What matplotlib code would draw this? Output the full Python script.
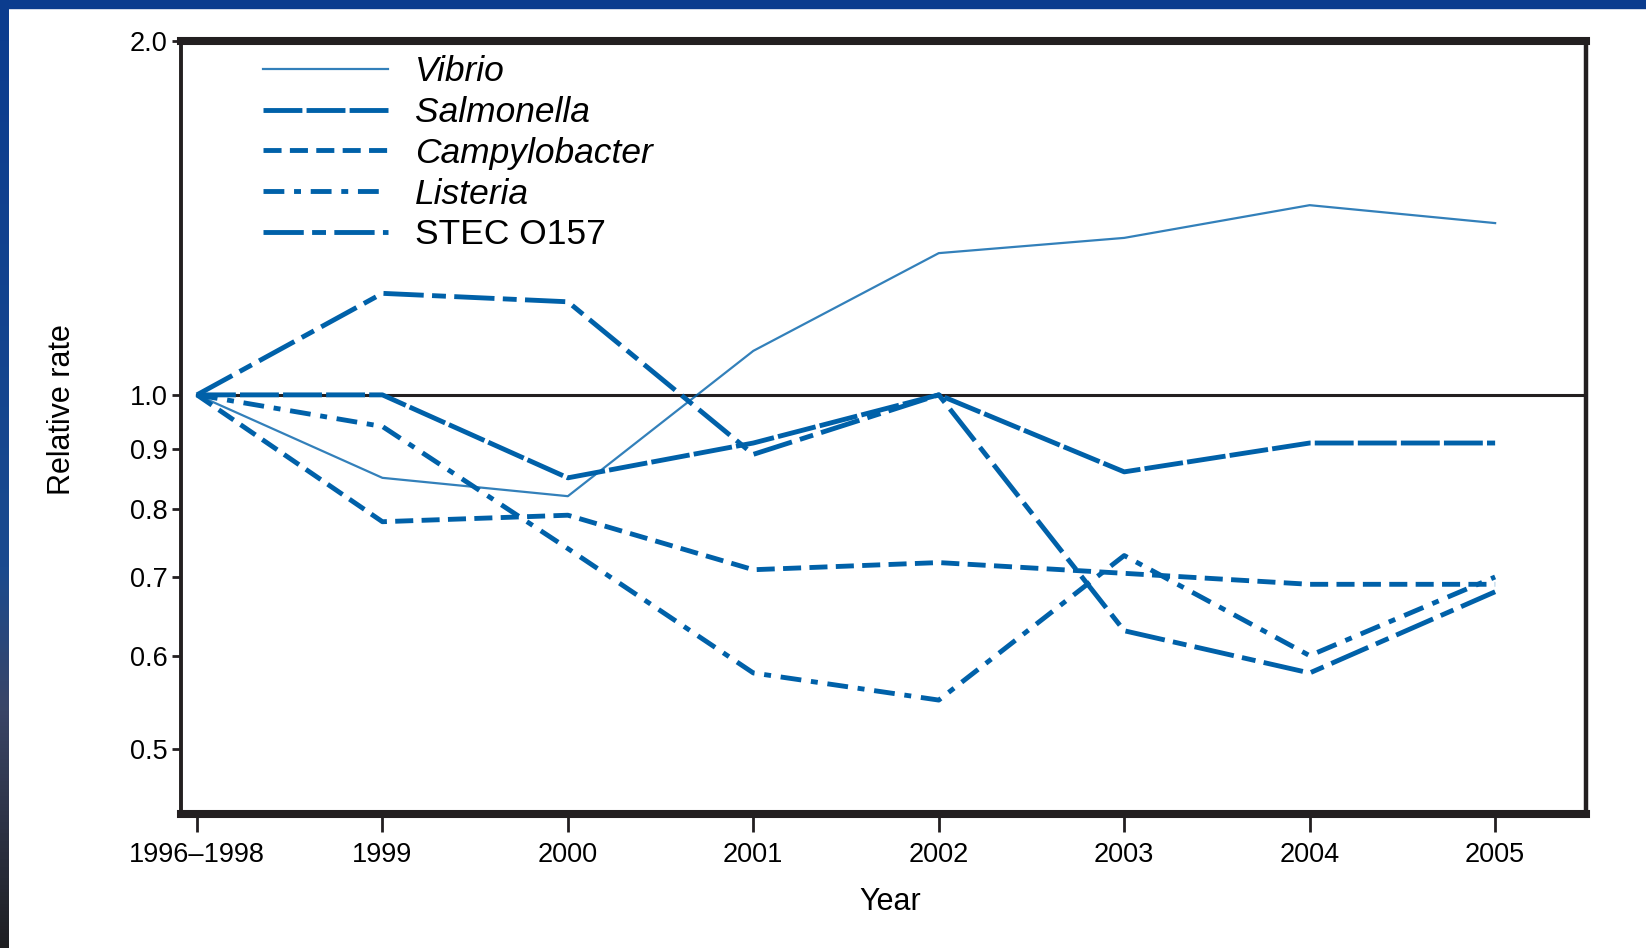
import numpy as np
import matplotlib
matplotlib.use('Agg')
import matplotlib.pyplot as plt
from matplotlib.colors import LinearSegmentedColormap

plt.rcParams['font.family'] = ['Liberation Sans', 'DejaVu Sans']
plt.rcParams['lines.scale_dashes'] = False

# data (relative rate vs 1996-1998 baseline)
years = ['1996\u20131998', '1999', '2000', '2001', '2002', '2003', '2004', '2005']
vibrio = [1.0, 0.85, 0.82, 1.09, 1.32, 1.36, 1.45, 1.40]
salmonella = [1.0, 1.0, 0.85, 0.91, 1.0, 0.86, 0.91, 0.91]
campylobacter = [1.0, 0.78, 0.79, 0.71, 0.72, 0.705, 0.69, 0.69]
listeria = [1.0, 0.94, 0.74, 0.58, 0.55, 0.73, 0.60, 0.70]
stec = [1.0, 1.22, 1.20, 0.89, 1.0, 0.63, 0.58, 0.68]

yticks = [0.5, 0.6, 0.7, 0.8, 0.9, 1.0, 2.0]
ytick_labels = ['0.5', '0.6', '0.7', '0.8', '0.9', '1.0', '2.0']

blue = '#0061A9'
ink = '#231F20'

fig = plt.figure(figsize=(16.46, 9.48), dpi=100)
fig.patch.set_facecolor('white')

# page border: blue band on top, blue-to-dark band on the left
fig.patches.append(plt.Rectangle((0, 1 - 8 / 948), 1, 8 / 948, transform=fig.transFigure,
                                 color='#0B3C8E', zorder=0))
bax = fig.add_axes([0, 0, 9 / 1646, 1])
cmap = LinearSegmentedColormap.from_list('edge', [(0, '#0B3C8E'), (0.6, '#1A4A8E'),
                                                  (0.75, '#3A4566'), (1, '#1F1F22')])
bax.imshow(np.linspace(0, 1, 256).reshape(-1, 1), aspect='auto', cmap=cmap)
bax.axis('off')

ax = fig.add_axes([181 / 1646, 1 - 814 / 948, 1405 / 1646, 773 / 948])
x = np.arange(len(years))

ax.plot(x, vibrio, color=blue, lw=1.6, alpha=0.8, label='Vibrio')
ax.plot(x, salmonella, color=blue, lw=3.5, dashes=(28, 3), label='Salmonella')
ax.plot(x, campylobacter, color=blue, lw=3.5, dashes=(13, 6), label='Campylobacter')
ax.plot(x, listeria, color=blue, lw=3.5, dashes=(15, 7, 5, 7), label='Listeria')
ax.plot(x, stec, color=blue, lw=3.5, dashes=(29, 6, 10, 6), label='STEC O157')

xlo, xhi = -0.086, 7.49
ax.set_xlim(xlo, xhi)
ax.set_yscale('log')
ax.set_ylim(0.44, 2.0)
ax.axhline(1.0, xmin=(0 - xlo) / (xhi - xlo), xmax=1, color=ink, lw=2.2, zorder=1)

ax.set_xticks(x)
ax.set_xticklabels(years)
ax.set_yticks(yticks)
ax.set_yticklabels(ytick_labels)
ax.minorticks_off()
ax.tick_params(axis='x', length=13, width=2, color=ink, pad=7, labelsize=19.5)
ax.tick_params(axis='y', length=6.5, width=2, color=ink, pad=3, labelsize=19.5)

for side, w in [('top', 5.8), ('bottom', 5.8), ('left', 2.8), ('right', 3.2)]:
    ax.spines[side].set_linewidth(w)
    ax.spines[side].set_color(ink)

ax.set_xlabel('Year', fontsize=22)
ax.set_ylabel('Relative rate', fontsize=22)
ax.xaxis.set_label_coords(0.505, -0.094)
ax.yaxis.set_label_coords(-0.074, 0.523)

leg = ax.legend(loc='upper left', bbox_to_anchor=(0.048, 1.0), frameon=False,
                fontsize=25.5, handlelength=3.55, handletextpad=0.75, labelspacing=0.22,
                borderaxespad=0)
for t in leg.get_texts()[:4]:
    t.set_fontstyle('italic')

fig.savefig('out.png', dpi=100, facecolor='white')
